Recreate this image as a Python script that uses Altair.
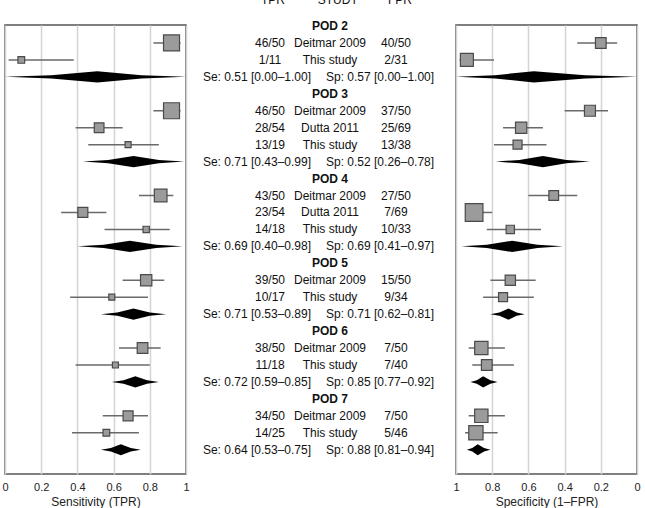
import altair as alt
import pandas as pd

# ---------------- data ----------------
pod_labels = ["POD 2", "POD 3", "POD 4", "POD 5", "POD 6", "POD 7"]

study_pod = ["POD 2", "POD 2", "POD 3", "POD 3", "POD 3", "POD 4", "POD 4", "POD 4",
             "POD 5", "POD 5", "POD 6", "POD 6", "POD 7", "POD 7"]
study_name = ["Deitmar 2009", "This study", "Deitmar 2009", "Dutta 2011", "This study",
              "Deitmar 2009", "Dutta 2011", "This study", "Deitmar 2009", "This study",
              "Deitmar 2009", "This study", "Deitmar 2009", "This study"]
tp_text = ["46/50", "1/11", "46/50", "28/54", "13/19", "43/50", "23/54", "14/18",
           "39/50", "10/17", "38/50", "11/18", "34/50", "14/25"]
fp_text = ["40/50", "2/31", "37/50", "25/69", "13/38", "27/50", "7/69", "10/33",
           "15/50", "9/34", "7/50", "7/40", "7/50", "5/46"]

sens = [0.92, 0.09, 0.92, 0.52, 0.68, 0.86, 0.43, 0.78, 0.78, 0.59, 0.76, 0.61, 0.68, 0.56]
sens_lo = [0.82, 0.02, 0.82, 0.39, 0.46, 0.74, 0.31, 0.55, 0.65, 0.36, 0.63, 0.39, 0.54, 0.37]
sens_hi = [0.97, 0.38, 0.97, 0.65, 0.85, 0.93, 0.56, 0.91, 0.88, 0.79, 0.86, 0.80, 0.79, 0.74]
sens_w = [2.56, 0.45, 2.56, 0.94, 0.36, 1.61, 1.00, 0.40, 1.28, 0.36, 1.14, 0.36, 1.00, 0.45]

spec = [0.20, 0.94, 0.26, 0.64, 0.66, 0.46, 0.90, 0.70, 0.70, 0.74, 0.86, 0.83, 0.86, 0.89]
spec_lo = [0.11, 0.79, 0.16, 0.52, 0.50, 0.33, 0.80, 0.53, 0.56, 0.57, 0.73, 0.68, 0.73, 0.77]
spec_hi = [0.33, 0.98, 0.40, 0.74, 0.79, 0.60, 0.95, 0.83, 0.81, 0.85, 0.93, 0.91, 0.93, 0.95]
spec_w = [1.14, 1.69, 1.21, 1.28, 0.81, 0.94, 3.13, 0.69, 1.06, 0.81, 1.77, 1.14, 1.77, 2.04]

se_est = [0.51, 0.71, 0.69, 0.71, 0.72, 0.64]
se_lo = [0.00, 0.43, 0.40, 0.53, 0.59, 0.53]
se_hi = [1.00, 0.99, 0.98, 0.89, 0.85, 0.75]
sp_est = [0.57, 0.52, 0.69, 0.71, 0.85, 0.88]
sp_lo = [0.00, 0.26, 0.41, 0.62, 0.77, 0.81]
sp_hi = [1.00, 0.78, 0.97, 0.81, 0.92, 0.94]

header_labels = ["TPR", "STUDY", "FPR"]
tick_values = [0, 0.2, 0.4, 0.6, 0.8, 1]

# ---------------- build tables ----------------
hdr_rows, study_rows, summ_rows = [], [], []
r = 0
for k, pod in enumerate(pod_labels):
    hdr_rows.append({"pod": pod, "row": r})
    r += 1
    for i, p in enumerate(study_pod):
        if p == pod:
            study_rows.append({
                "name": study_name[i], "tp": tp_text[i], "fp": fp_text[i],
                "sens": sens[i], "sens_lo": sens_lo[i], "sens_hi": sens_hi[i], "w_se": sens_w[i],
                "spec": spec[i], "spec_lo": spec_lo[i], "spec_hi": spec_hi[i], "w_sp": spec_w[i],
                "row": r})
            r += 1
    summ_rows.append({
        "pod": pod, "row": r,
        "se_txt": f"Se: {se_est[k]:.2f} [{se_lo[k]:.2f}\u2013{se_hi[k]:.2f}]",
        "sp_txt": f"Sp: {sp_est[k]:.2f} [{sp_lo[k]:.2f}\u2013{sp_hi[k]:.2f}]"})
    r += 1

hdr_df = pd.DataFrame(hdr_rows)
st_df = pd.DataFrame(study_rows)
sm_df = pd.DataFrame(summ_rows)

# diamond glyph outline (shape only): slightly concave sides
H = 0.33  # half height of diamonds in row units
GLYPH = [(0.0, 0.0), (0.5, 0.30), (1.0, 1.0)]


def diamond_rows(lo, est, hi, row, g):
    out = []
    for t, f in GLYPH:
        out.append({"g": g, "x": lo + (est - lo) * t, "y1": row - H * f, "y2": row + H * f})
    for t, f in reversed(GLYPH[:-1]):
        out.append({"g": g, "x": hi - (hi - est) * t, "y1": row - H * f, "y2": row + H * f})
    return out


dse, dsp = [], []
for k, s in enumerate(summ_rows):
    dse += diamond_rows(se_lo[k], se_est[k], se_hi[k], s["row"], k)
    dsp += diamond_rows(sp_lo[k], sp_est[k], sp_hi[k], s["row"], k)
dse_df = pd.DataFrame(dse)
dsp_df = pd.DataFrame(dsp)

top_df = pd.DataFrame({"label": header_labels, "row": [-1.53] * 3})

# ---------------- chart ----------------
FONT = "Liberation Sans"
W_SIDE, W_MID, HGT = 181, 270, 449
yscale = alt.Scale(domain=[-0.06, 26.43], reverse=True, nice=False, zero=False)
size_scale = alt.Scale(domain=[0, 4], range=[0, 400])


def side_panel(df_field, lo, hi, wfield, ddf, title, reverse):
    xs = alt.Scale(domain=[0, 1], reverse=reverse, nice=False, zero=False)
    ax = alt.Axis(values=tick_values, format="~g", grid=True, gridColor="#d4d4d4", gridWidth=1.5,
                  domain=False, ticks=False, labelPadding=7, labelFontSize=11,
                  labelColor="#222", labelFont=FONT, title=title, titleFont=FONT,
                  titleFontSize=12, titleFontWeight="normal", titleColor="#222",
                  titlePadding=4, labelFlush=False, labelOverlap=False, labelBound=False,
                  tickCount=6)
    base = alt.Chart(st_df)
    ci = base.mark_rule(color="#6a6a6a", strokeWidth=1.5).encode(
        x=alt.X(f"{lo}:Q", scale=xs, axis=ax),
        x2=f"{hi}:Q",
        y=alt.Y("row:Q", scale=yscale, axis=None))
    sq = base.mark_square(filled=True, fill="#9b9b9b", stroke="#4a4a4a", strokeWidth=1.2,
                          opacity=1).encode(
        x=alt.X(f"{df_field}:Q", scale=xs, axis=ax),
        y=alt.Y("row:Q", scale=yscale, axis=None),
        size=alt.Size(f"{wfield}:Q", scale=size_scale, legend=None))
    dia = alt.Chart(ddf).mark_area(color="black", orient="vertical", opacity=1).encode(
        x=alt.X("x:Q", scale=xs, axis=ax),
        y=alt.Y("y1:Q", scale=yscale, axis=None),
        y2="y2:Q",
        detail="g:N")
    return alt.layer(ci, sq, dia).properties(width=W_SIDE, height=HGT)


left = side_panel("sens", "sens_lo", "sens_hi", "w_se", dse_df, "Sensitivity (TPR)", False)
right = side_panel("spec", "spec_lo", "spec_hi", "w_sp", dsp_df, "Specificity (1\u2013FPR)", True)

ty = alt.Y("row:Q", scale=yscale, axis=None)
txt = dict(font=FONT, fontSize=12, color="#111", baseline="middle")
mid_layers = [
    alt.Chart(top_df.iloc[[0]]).mark_text(**txt).encode(x=alt.value(87), y=ty, text="label:N"),
    alt.Chart(top_df.iloc[[1]]).mark_text(**txt).encode(x=alt.value(152), y=ty, text="label:N"),
    alt.Chart(top_df.iloc[[2]]).mark_text(**txt).encode(x=alt.value(214), y=ty, text="label:N"),
    alt.Chart(hdr_df).mark_text(fontWeight="bold", **txt).encode(x=alt.value(144), y=ty, text="pod:N"),
    alt.Chart(st_df).mark_text(**txt).encode(x=alt.value(144), y=ty, text="name:N"),
    alt.Chart(st_df).mark_text(**txt).encode(x=alt.value(84), y=ty, text="tp:N"),
    alt.Chart(st_df).mark_text(**txt).encode(x=alt.value(210), y=ty, text="fp:N"),
    alt.Chart(sm_df).mark_text(align="right", **txt).encode(x=alt.value(125), y=ty, text="se_txt:N"),
    alt.Chart(sm_df).mark_text(align="left", **txt).encode(x=alt.value(140), y=ty, text="sp_txt:N"),
]
mid = alt.layer(*mid_layers).properties(width=W_MID, height=HGT,
                                        view=alt.ViewBackground(stroke="transparent"))

chart = alt.hconcat(left, mid, right, spacing=0, bounds="flush").resolve_scale(
    x="independent", y="independent", size="independent"
).properties(
    padding={"left": 1, "top": -7, "right": 0, "bottom": 0},
    background="white",
).configure_view(stroke="#555555", strokeWidth=1.5)

chart.save("out.html", embed_options={"renderer": "svg", "actions": False})
